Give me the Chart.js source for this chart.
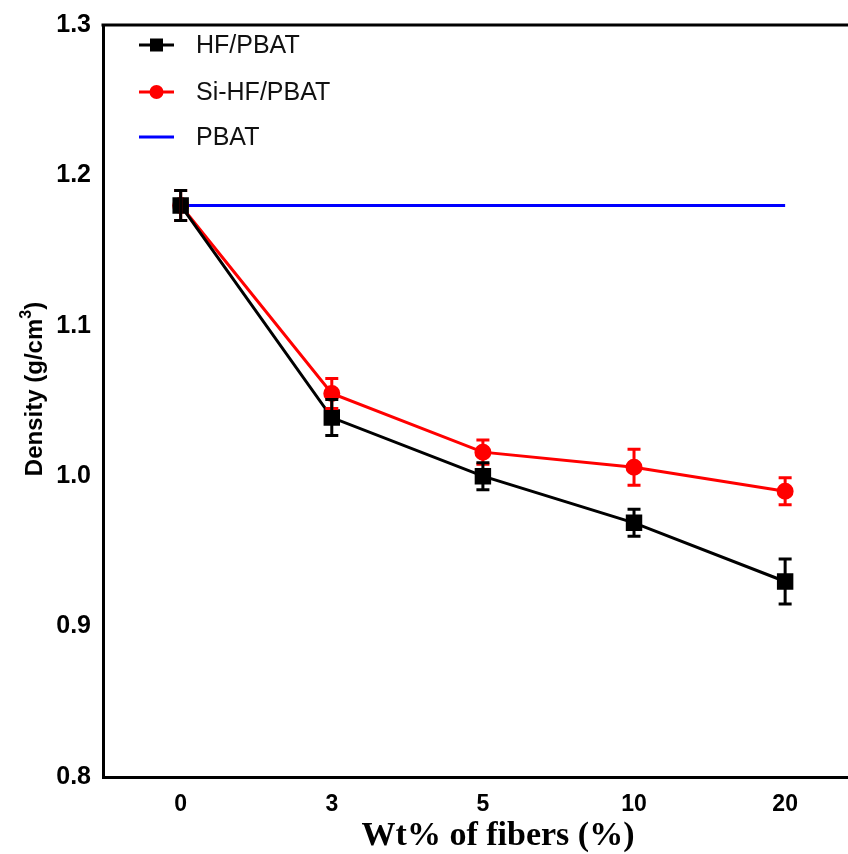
<!DOCTYPE html>
<html>
<head>
<meta charset="utf-8">
<script src="https://cdn.jsdelivr.net/npm/chart.js@4"></script>
<style>
  html, body { margin: 0; padding: 0; background: #fff; }
  #wrap { width: 848px; height: 854px; }
</style>
</head>
<body>
<div id="wrap"><canvas id="myChart" width="848" height="854"></canvas></div>
<script>
// Data
const categories = ['0', '3', '5', '10', '20'];
const hfValues = [1.180, 1.039, 1.000, 0.969, 0.930];
const hfErrors = [0.010, 0.012, 0.009, 0.009, 0.015];
const siValues = [1.180, 1.055, 1.016, 1.006, 0.990];
const siErrors = [0.010, 0.010, 0.008, 0.012, 0.009];
const pbatValues = [1.18, 1.18, 1.18, 1.18, 1.18];
const yTicks = [0.8, 0.9, 1.0, 1.1, 1.2, 1.3];

const toPoints = vals => vals.map((v, i) => ({ x: i, y: v }));

// Error bars with caps (last dataset first so the first one ends up on top)
const errorBars = {
    id: 'errorBars',
    afterDatasetsDraw(chart) {
        const ctx = chart.ctx;
        const xs = chart.scales.x, ys = chart.scales.y;
        chart.data.datasets.slice().reverse().forEach(ds => {
            if (!ds.errors) return;
            ctx.save();
            ctx.strokeStyle = ds.borderColor;
            ctx.lineWidth = 3;
            ds.data.forEach((p, i) => {
                const px = xs.getPixelForValue(p.x);
                const top = ys.getPixelForValue(p.y + ds.errors[i]);
                const bot = ys.getPixelForValue(p.y - ds.errors[i]);
                ctx.beginPath();
                ctx.moveTo(px, top); ctx.lineTo(px, bot);
                ctx.moveTo(px - 6.5, top); ctx.lineTo(px + 6.5, top);
                ctx.moveTo(px - 6.5, bot); ctx.lineTo(px + 6.5, bot);
                ctx.stroke();
            });
            ctx.restore();
        });
    }
};

// Frame line on top, legend inside the plot area, axis titles
const frameAndLegend = {
    id: 'frameAndLegend',
    afterDraw(chart) {
        const ctx = chart.ctx;
        const area = chart.chartArea;
        ctx.save();
        ctx.strokeStyle = '#000';
        ctx.lineWidth = 3;
        ctx.beginPath();
        ctx.moveTo(area.left - 1.5, area.top);
        ctx.lineTo(chart.width, area.top);
        ctx.stroke();

        // legend
        const rowsY = [45, 92, 137];
        chart.data.datasets.forEach((ds, i) => {
            const y = rowsY[i];
            ctx.strokeStyle = ds.borderColor;
            ctx.lineWidth = 3;
            ctx.beginPath();
            ctx.moveTo(139, y); ctx.lineTo(174, y);
            ctx.stroke();
            ctx.fillStyle = ds.borderColor;
            if (ds.pointStyle === 'rect') {
                ctx.fillRect(150, y - 6.5, 13, 13);
            } else if (ds.pointRadius > 0) {
                ctx.beginPath();
                ctx.arc(156.5, y, 7, 0, Math.PI * 2);
                ctx.fill();
            }
            ctx.fillStyle = '#111';
            ctx.font = '25px "Liberation Sans", Arial, sans-serif';
            ctx.textBaseline = 'middle';
            ctx.textAlign = 'left';
            ctx.fillText(ds.label, 196, y + 1);
        });

        // y axis title with superscript
        const yMid = (area.top + area.bottom) / 2 - 12;
        ctx.translate(42, yMid);
        ctx.rotate(-Math.PI / 2);
        ctx.fillStyle = '#000';
        ctx.textBaseline = 'alphabetic';
        ctx.textAlign = 'left';
        const big = 'bold 24px "Liberation Sans", Arial, sans-serif';
        const small = 'bold 16px "Liberation Sans", Arial, sans-serif';
        ctx.font = big;
        const w1 = ctx.measureText('Density (g/cm').width;
        const w3 = ctx.measureText(')').width;
        ctx.font = small;
        const w2 = ctx.measureText('3').width;
        let x0 = -(w1 + w2 + w3) / 2;
        ctx.font = big;
        ctx.fillText('Density (g/cm', x0, 0);
        ctx.font = small;
        ctx.fillText('3', x0 + w1, -11);
        ctx.font = big;
        ctx.fillText(')', x0 + w1 + w2, 0);
        ctx.setTransform(1, 0, 0, 1, 0, 0);

        // x axis title
        ctx.fillStyle = '#000';
        ctx.font = 'bold 34px "Liberation Serif", "Times New Roman", serif';
        ctx.textAlign = 'center';
        ctx.textBaseline = 'middle';
        ctx.fillText('Wt% of fibers (%)', chart.scales.x.getPixelForValue(2.1), 836);
        ctx.restore();
    }
};

const ctx = document.getElementById('myChart').getContext('2d');
new Chart(ctx, {
    type: 'line',
    data: {
        datasets: [{
            label: 'HF/PBAT',
            data: toPoints(hfValues),
            errors: hfErrors,
            borderColor: '#000000',
            backgroundColor: '#000000',
            borderWidth: 3,
            pointStyle: 'rect',
            pointRadius: 9.5,
            pointHoverRadius: 9.5
        }, {
            label: 'Si-HF/PBAT',
            data: toPoints(siValues),
            errors: siErrors,
            borderColor: '#ff0000',
            backgroundColor: '#ff0000',
            borderWidth: 3,
            pointStyle: 'circle',
            pointRadius: 7,
            pointHoverRadius: 7
        }, {
            label: 'PBAT',
            data: toPoints(pbatValues),
            borderColor: '#0000ff',
            backgroundColor: '#0000ff',
            borderWidth: 3,
            pointRadius: 0
        }]
    },
    options: {
        responsive: false,
        animation: false,
        layout: { autoPadding: false, padding: { top: 25, left: 0, right: 0, bottom: 0 } },
        plugins: { legend: { display: false }, tooltip: { enabled: false } },
        scales: {
            x: {
                type: 'linear',
                min: -0.514,
                max: 4.416,
                afterBuildTicks: scale => { scale.ticks = categories.map((c, i) => ({ value: i })); },
                afterFit: scale => { scale.height = 77; },
                ticks: {
                    callback: v => categories[v],
                    color: '#000',
                    font: { family: '"Liberation Sans", Arial', size: 23, weight: 'bold' },
                    padding: 5,
                    maxRotation: 0
                },
                grid: { display: false, drawOnChartArea: false, drawTicks: true, tickLength: 9, tickWidth: 3, tickColor: '#000' },
                border: { display: true, color: '#000', width: 3 }
            },
            y: {
                min: 0.8,
                max: 1.3,
                afterBuildTicks: scale => { scale.ticks = yTicks.map(v => ({ value: v })); },
                afterFit: scale => { scale.width = 103; },
                ticks: {
                    callback: v => v.toFixed(1),
                    color: '#000',
                    font: { family: '"Liberation Sans", Arial', size: 25, weight: 'bold' },
                    padding: 4
                },
                grid: { display: false, drawOnChartArea: false, drawTicks: true, tickLength: 8, tickWidth: 3, tickColor: '#000' },
                border: { display: true, color: '#000', width: 3 }
            }
        }
    },
    plugins: [errorBars, frameAndLegend]
});
</script>
</body>
</html>
